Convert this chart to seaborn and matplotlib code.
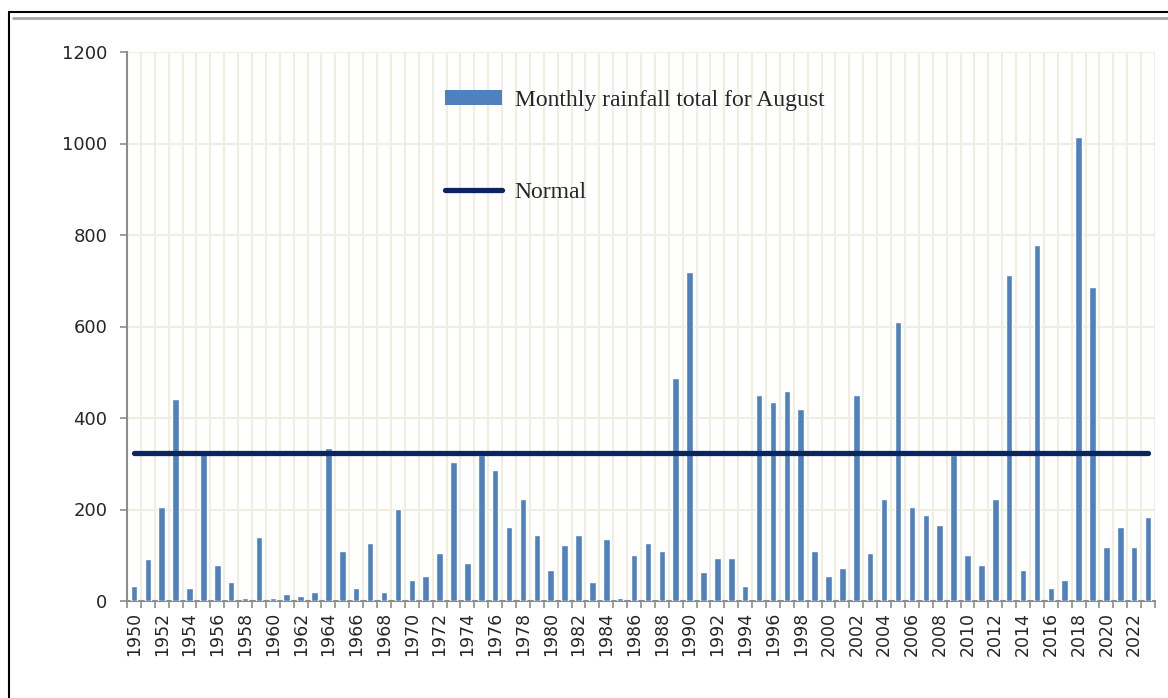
"""
August monthly rainfall totals, 1950-2023, with the normal drawn across.
"""

import matplotlib
matplotlib.use("Agg")
import matplotlib.pyplot as plt
from matplotlib.lines import Line2D
from matplotlib.patches import Patch
import numpy as np
import pandas as pd
import seaborn as sns

# ========== data ==========
years = list(range(1950, 2024))
rainfall = [
    33, 91, 206, 441, 28, 325, 78, 42, 6, 140,          # 1950-1959
    6, 15, 11, 20, 335, 109, 28, 126, 20, 202,          # 1960-1969
    46, 55, 104, 304, 82, 320, 286, 162, 224, 144,      # 1970-1979
    68, 122, 144, 42, 135, 6, 100, 126, 109, 487,       # 1980-1989
    719, 64, 95, 95, 33, 450, 436, 459, 419, 109,       # 1990-1999
    55, 73, 450, 104, 224, 610, 206, 189, 166, 320,     # 2000-2009
    100, 78, 224, 713, 68, 778, 28, 46, 1014, 686,      # 2010-2019
    117, 162, 117, 184,                                 # 2020-2023
]
normal = 323
y_ticks = [0, 200, 400, 600, 800, 1000, 1200]
bar_label = "Monthly rainfall total for August"
line_label = "Normal"

df = pd.DataFrame({"year": [str(y) for y in years], "rain": rainfall})
df["normal"] = normal
df["pos"] = np.arange(len(df))

# ========== style ==========
sns.set_style("white")
plt.rcParams["font.family"] = ["DejaVu Sans"]
bar_color = "#4F81BD"
line_color = "#0B2561"
grid_color = "#F0EDE3"
axis_color = "#8C8C8C"

fig = plt.figure(figsize=(11.68, 6.98), dpi=100)
ax = fig.add_axes([127 / 1168, 1 - 601 / 698, (1155 - 127) / 1168, (601 - 52) / 698])

sns.barplot(data=df, x="year", y="rain", color=bar_color, width=0.47,
            saturation=1, ax=ax, zorder=3)
sns.lineplot(data=df, x="pos", y="normal", color=line_color, linewidth=3.8,
             ax=ax, zorder=4, solid_capstyle="round")

n = len(years)
ax.set_xlim(-0.5, n - 0.5)
ax.set_ylim(0, 1200)
ax.set_yticks(y_ticks)
ax.set_xlabel("")
ax.set_ylabel("")

# every other year labelled, ticks sit on the category boundaries
ax.set_xticks(np.arange(0, n, 2))
ax.set_xticklabels([str(y) for y in years[::2]], rotation=90)
ax.set_xticks(np.arange(-0.5, n, 1), minor=True)
ax.tick_params(axis="x", which="major", length=0, pad=8, labelsize=12.5)
ax.tick_params(axis="x", which="minor", length=5, width=1.2, color=axis_color,
               direction="out", bottom=True)
ax.tick_params(axis="y", length=5, width=1.2, color=axis_color, pad=9,
               labelsize=13, left=True)

ax.grid(False)
ax.grid(axis="x", which="minor", color=grid_color, linewidth=1.6, zorder=0)
ax.grid(axis="y", which="major", color=grid_color, linewidth=1.6, zorder=0)
ax.set_axisbelow(True)

for side in ["top", "right"]:
    ax.spines[side].set_visible(False)
for side in ["left", "bottom"]:
    ax.spines[side].set_color(axis_color)
    ax.spines[side].set_linewidth(1.5)

# ========== legend ==========
handles = [
    Patch(facecolor=bar_color, edgecolor="none"),
    Line2D([0], [0], color=line_color, linewidth=3.8, solid_capstyle="round"),
]
ax.legend(handles, [bar_label, line_label], loc="upper left",
          bbox_to_anchor=(445 / 1168, 1 - 90 / 698), bbox_transform=fig.transFigure,
          frameon=False, borderpad=0, borderaxespad=0, handlelength=2.4,
          handleheight=0.6, handletextpad=0.55, labelspacing=3.0,
          prop={"family": "Liberation Serif", "size": 17})

# ========== outer frame ==========
fig.add_artist(Line2D([9 / 1168, 9 / 1168], [0, 1 - 12 / 698], color="black",
                      linewidth=1.5, transform=fig.transFigure))
fig.add_artist(Line2D([9 / 1168, 1], [1 - 12 / 698, 1 - 12 / 698], color="black",
                      linewidth=1.5, transform=fig.transFigure))
fig.add_artist(Line2D([13 / 1168, 1], [1 - 18 / 698, 1 - 18 / 698], color="#A6A6A6",
                      linewidth=2, transform=fig.transFigure))

fig.savefig("out.png", dpi=100)
